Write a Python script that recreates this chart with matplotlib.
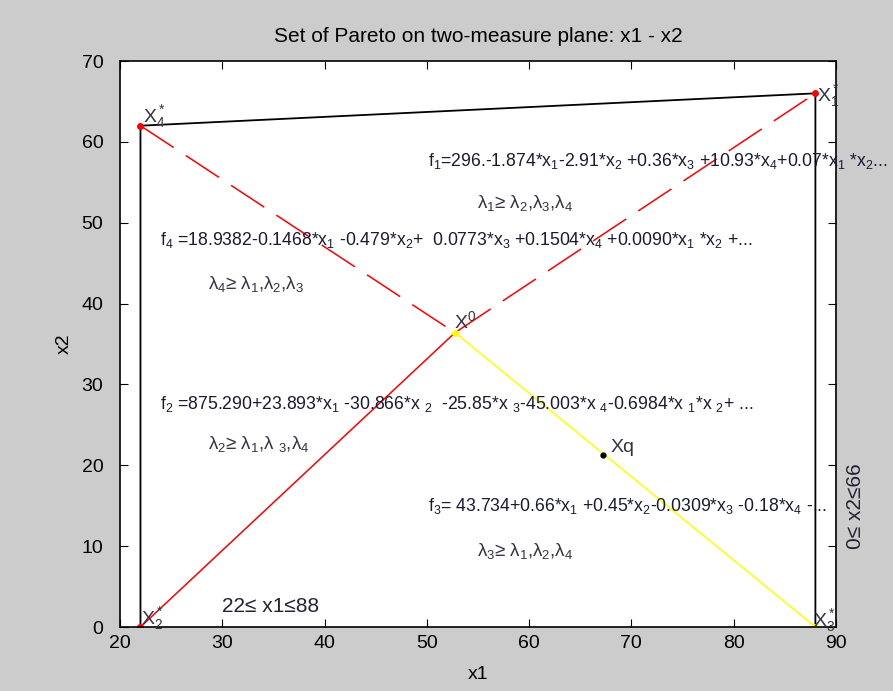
import matplotlib.pyplot as plt

plt.rcParams['font.family'] = ['Liberation Sans', 'DejaVu Sans']
plt.rcParams['mathtext.fontset'] = 'custom'
plt.rcParams['mathtext.rm'] = 'Liberation Sans'
plt.rcParams['mathtext.it'] = 'Liberation Sans:italic'

# corner points of the Pareto set and the ideal / query points
x4s = (22, 62)
x1s = (88, 66)
x2s = (22, 0)
x3s = (88, 0)
x0 = (52.75, 36.4)
xq = (67.2, 21.3)

# outline of the feasible area
frame_x = [22, 22, 88, 88]
frame_y = [0, 62, 66, 0]

eq_f1 = r"f$_1$=296.-1.874*x$_1$-2.91*x$_2$ +0.36*x$_3$ +10.93*x$_4$+0.07*x$_1$ *x$_2$..."
eq_f4 = r"f$_4$ =18.9382-0.1468*x$_1$ -0.479*x$_2$+  0.0773*x$_3$ +0.1504*x$_4$ +0.0090*x$_1$ *x$_2$ +..."
eq_f2 = r"f$_2$ =875.290+23.893*x$_1$ -30.866*x $_2$  -25.85*x $_3$-45.003*x $_4$-0.6984*x $_1$*x $_2$+ ..."
eq_f3 = r"f$_3$= 43.734+0.66*x$_1$ +0.45*x$_2$-0.0309*x$_3$ -0.18*x$_4$ -..."
lam1 = r"λ$_1$≥ λ$_2$,λ$_3$,λ$_4$"
lam4 = r"λ$_4$≥ λ$_1$,λ$_2$,λ$_3$"
lam2 = r"λ$_2$≥ λ$_1$,λ $_3$,λ$_4$"
lam3 = r"λ$_3$≥ λ$_1$,λ$_2$,λ$_4$"

fig = plt.figure(figsize=(8.93, 6.91), dpi=100, facecolor='#cccccc')
ax = fig.add_axes([0.1344, 0.0926, 0.8016, 0.8191])

ax.plot(frame_x, frame_y, color='black', lw=1.3)
ax.plot([x4s[0], x0[0], x1s[0]], [x4s[1], x0[1], x1s[1]], color='red', lw=1.1, dashes=(26, 9.5))
ax.plot([x2s[0], x0[0]], [x2s[1], x0[1]], color='red', lw=1.1)
ax.plot([x0[0], x3s[0]], [x0[1], x3s[1]], color='yellow', lw=1.1)

ax.plot([x4s[0], x1s[0], x2s[0]], [x4s[1], x1s[1], x2s[1]], '.', color='red', ms=8)
ax.plot([x0[0], x3s[0]], [x0[1], x3s[1]], '.', color='yellow', ms=8)
ax.plot(*xq, '.', color='black', ms=7)

lab = dict(fontsize=14, color='#333344')
ax.text(x4s[0] + 0.2, x4s[1] + 0.4, r"X$^*_4$", **lab)
ax.text(x1s[0] + 0.2, x1s[1] - 0.9, r"X$^*_1$", **lab)
ax.text(x2s[0] + 0.1, x2s[1] + 0.3, r"X$^*_2$", **lab)
ax.text(x3s[0] - 0.2, x3s[1] + 0.1, r"X$^*_3$", **lab)
ax.text(x0[0] - 0.1, x0[1] + 0.6, r"X$^0$", **lab)
ax.text(xq[0] + 0.8, xq[1] + 0.4, "Xq", **lab)

eq = dict(fontsize=12.7, color='#1a1a33')
ax.text(50.1, 57.0, eq_f1, **eq)
ax.text(23.9, 47.2, eq_f4, **eq)
ax.text(23.9, 27.0, eq_f2, **eq)
ax.text(50.1, 14.4, eq_f3, **eq)

lm = dict(fontsize=13.5, color='#333344')
ax.text(54.9, 51.8, lam1, **lm)
ax.text(28.6, 41.8, lam4, **lm)
ax.text(28.6, 22.0, lam2, **lm)
ax.text(54.9, 8.8, lam3, **lm)

ax.text(30, 1.8, "22≤ x1≤88", fontsize=15, color='#222233')
ax.text(91.9, 15, "0≤ x2≤66", fontsize=15, color='#222233', rotation=90,
        ha='center', va='center')

ax.set_xlim(20, 90)
ax.set_ylim(0, 70)
ax.set_xticks(range(20, 91, 10))
ax.set_yticks(range(0, 71, 10))
ax.tick_params(direction='in', length=6, top=True, right=True, labelsize=14)
ax.tick_params(axis='y', pad=12)
ax.tick_params(axis='x', pad=6)
for s in ax.spines.values():
    s.set_linewidth(1.2)

ax.set_title("Set of Pareto on two-measure plane: x1 - x2", fontsize=15, pad=14)
ax.set_xlabel("x1", fontsize=14, labelpad=10)
ax.set_ylabel("x2", fontsize=14, labelpad=6)

fig.savefig('out.png', dpi=100, facecolor=fig.get_facecolor())
